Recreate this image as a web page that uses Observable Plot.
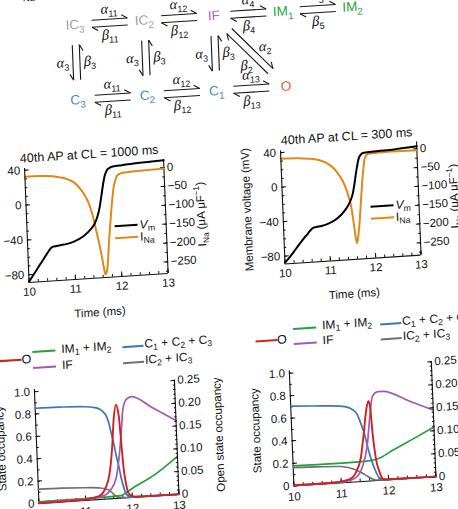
<!DOCTYPE html>
<html>
<head>
<meta charset="utf-8">
<script src="https://cdn.jsdelivr.net/npm/d3@7"></script>
<script src="https://cdn.jsdelivr.net/npm/@observablehq/plot@0.6"></script>
<style>
  html, body { margin: 0; padding: 0; background: #fff; width: 458px; height: 509px; overflow: hidden; }
  #fig {
    position: absolute; left: 0; top: 0; width: 458px; height: 509px;
    transform-origin: 229px 254px;
    transform: matrix(1, -0.065, 0.04, 1, 0, 0);
    font-family: "Liberation Sans", Arial, Helvetica, sans-serif; color: #111;
  }
  .sw { position: absolute; height: 0; border-top: 2px solid; }
  .lt { position: absolute; font-size: 12px; line-height: 14px; white-space: nowrap; transform: translateY(-50%); }
  .lt sub { font-size: 0.72em; vertical-align: -0.3em; line-height: 0; }
  .lt sup { font-size: 0.72em; vertical-align: 0.45em; line-height: 0; }
</style>
</head>
<body>
<div id="fig"></div>
<script>
// ---------- axis ticks ----------
const timeTicks = [10, 11, 12, 13];
const vmTicks = [40, 0, -40, -80];
const inaTicks = [0, -50, -100, -150, -200, -250];
const occTicks = [0, 0.2, 0.4, 0.6, 0.8, 1.0];
const openTicks = [0, 0.05, 0.10, 0.15, 0.20, 0.25];

// ---------- 40th AP, CL = 1000 ms : [time (ms), value] ----------
const vm1000 = [[10.0,-88],[10.1,-80.5],[10.2,-73],[10.3,-65.5],[10.4,-58],[10.5,-51],[10.56,-49.6],[10.7,-48.6],
  [10.85,-47.5],[11.0,-45.4],[11.12,-42.8],[11.23,-39.2],[11.35,-33.8],[11.46,-26.5],[11.53,-18],[11.585,-7.6],
  [11.63,5],[11.68,19],[11.72,28],[11.77,34],[11.83,36.5],[11.9,37.7],[12.1,38.6],[12.4,39.8],[12.7,40.5],[13.0,41.2]];
const ina1000 = [[10.0,-1],[10.3,-1.5],[10.6,-4],[10.76,-8.5],[10.9,-14],[11.05,-24],[11.15,-37],[11.26,-57],
  [11.34,-78],[11.40,-102],[11.45,-128],[11.49,-156],[11.54,-188],[11.58,-218],[11.62,-252],[11.65,-272],
  [11.675,-268],[11.70,-255],[11.725,-228],[11.75,-193],[11.79,-148],[11.83,-105],[11.87,-68],[11.90,-44],
  [11.95,-24],[11.98,-14],[12.05,-9],[12.1,-7],[12.4,-5],[12.7,-4],[13.0,-3]];

// ---------- 40th AP, CL = 300 ms ----------
const vm300 = [[10.0,-87.5],[10.1,-82],[10.2,-76],[10.29,-70],[10.4,-63],[10.53,-55.6],[10.6,-51.5],[10.65,-49.5],
  [10.8,-48.2],[10.95,-46.5],[11.07,-44],[11.2,-40],[11.3,-35.3],[11.39,-30],[11.46,-24.4],[11.51,-19],
  [11.55,-13.2],[11.6,-1],[11.65,13.2],[11.72,28.2],[11.81,33.4],[12.0,34.2],[12.5,35.2],[13.0,37]];
const ina300 = [[10.0,-3],[10.4,-5],[10.75,-10],[10.9,-16],[11.05,-26],[11.16,-38],[11.26,-55],[11.34,-72],
  [11.40,-91],[11.45,-112],[11.50,-138],[11.54,-178],[11.57,-215],[11.60,-240],[11.63,-226],[11.68,-182],
  [11.74,-112],[11.80,-50],[11.85,-15],[11.93,-5],[12.3,-3],[13.0,-4]];

// ---------- state occupancies, CL = 1000 ms ----------
const closed1000 = [[10,0.852],[10.5,0.848],[11.08,0.836],[11.25,0.825],[11.37,0.808],[11.45,0.78],[11.51,0.745],
  [11.56,0.68],[11.60,0.596],[11.65,0.49],[11.69,0.388],[11.74,0.28],[11.78,0.18],[11.83,0.09],[11.87,0.035],
  [11.95,0.01],[12.1,0.004],[13,0.002]];
const ic1000 = [[10,0.128],[10.5,0.124],[11.0,0.114],[11.3,0.104],[11.48,0.084],[11.57,0.055],[11.65,0.022],
  [11.75,0.006],[12,0.002],[13,0.001]];
const im1000 = [[10,0.015],[10.5,0.016],[11.0,0.017],[11.5,0.019],[11.75,0.022],[11.85,0.04],[12.0,0.078],
  [12.5,0.19],[13,0.34]];
const if1000 = [[10,0.008],[10.5,0.01],[11.0,0.014],[11.36,0.029],[11.55,0.083],[11.67,0.18],[11.76,0.386],
  [11.82,0.59],[11.875,0.795],[11.96,0.88],[12.07,0.90],[12.5,0.79],[13,0.66]];
const open1000 = [[10,0.0005],[11.0,0.002],[11.29,0.0075],[11.44,0.025],[11.53,0.053],[11.61,0.11],[11.67,0.175],
  [11.73,0.205],[11.78,0.18],[11.81,0.123],[11.84,0.065],[11.88,0.029],[11.94,0.007],[12.05,0.001],[13,0]];

// ---------- state occupancies, CL = 300 ms ----------
const closed300 = [[10,0.707],[10.5,0.695],[11.0,0.681],[11.22,0.661],[11.3,0.64],[11.39,0.598],[11.45,0.53],
  [11.52,0.435],[11.61,0.259],[11.71,0.112],[11.81,0.022],[11.95,0.005],[13,0.002]];
const ic300 = [[10,0.162],[10.5,0.155],[11.02,0.144],[11.31,0.108],[11.45,0.075],[11.56,0.043],[11.73,0.005],
  [12,0.001],[13,0.001]];
const im300 = [[10,0.177],[10.5,0.175],[11.03,0.173],[11.6,0.178],[11.82,0.196],[12.12,0.26],[12.63,0.363],[13,0.44]];
const if300 = [[10,0.004],[10.5,0.005],[11.08,0.008],[11.3,0.035],[11.45,0.119],[11.58,0.318],[11.66,0.577],
  [11.73,0.749],[11.85,0.785],[11.95,0.785],[12.5,0.685],[13,0.59]];
const open300 = [[10,0.0015],[10.79,0.001],[11.16,0.006],[11.31,0.019],[11.43,0.05],[11.52,0.107],[11.59,0.156],
  [11.64,0.173],[11.67,0.163],[11.70,0.105],[11.75,0.048],[11.81,0.02],[11.91,0.001],[13,0]];

// ---------- Markov model of I_Na ----------
const states = ["IC3", "IC2", "IF", "IM1", "IM2", "C3", "C2", "C1", "O"];
const stateColumn = [0, 1, 2, 3, 4, 0, 1, 2, 3];
const stateRow = [0, 0, 0, 0, 0, 1, 1, 1, 1];
const stateGroup = ["IC", "IC", "IF", "IM", "IM", "C", "C", "C", "O"];
const rateFrom = ["IC3", "IC2", "IF", "IM1", "C3", "C2", "C1", "IC3", "IC2", "IF", "IF"];
const rateTo   = ["IC2", "IF", "IM1", "IM2", "C2", "C1", "O", "C3", "C2", "C1", "O"];
const rateFwd  = ["α_{11}", "α_{12}", "α_{4}", "α_{5}", "α_{11}", "α_{12}", "α_{13}", "α_{3}", "α_{3}", "α_{3}", "α_{2}"];
const rateBwd  = ["β_{11}", "β_{12}", "β_{4}", "β_{5}", "β_{11}", "β_{12}", "β_{13}", "β_{3}", "β_{3}", "β_{3}", "β_{2}"];

// ---------- styling ----------
const FONT = '"Liberation Sans", Arial, Helvetica, sans-serif';
const ORANGE = "#e08a16";
const COLORS = {O: "#d42020", IM: "#22a03a", C: "#3a76b8", IF: "#a159b8", IC: "#707070"};
const STATE_COLORS = {O: "#e4552b", IM: "#25a541", C: "#3d82c4", IF: "#b35fc6", IC: "#9c9c9c"};
const M = {left: 60, right: 62, top: 26, bottom: 44};
const svgNS = "http://www.w3.org/2000/svg";
const fig = document.getElementById("fig");

const timeMinor = d3.range(10, 13.001, 0.2);
const vmMinor = d3.range(-80, 41, 10);
const inaMinor = d3.range(-275, 1, 25);
const occMinor = d3.range(0, 1.001, 0.1);
const openMinor = d3.range(0, 0.2501, 0.01);
const fmtTime = d => String(d);
const fmtOcc = d => d === 0 ? "0" : d.toFixed(1);
const fmtOpen = d => d === 0 ? "0" : d.toFixed(2);
const noText = () => "";

// Turn "_{..}", "^{..}", "*..*" and Greek letters into styled tspans.
function richify(root) {
  root.querySelectorAll("text, tspan").forEach(el => {
    if (el.children.length) return;
    const s = el.textContent;
    if (!/[_^*αβ]/.test(s)) return;
    const fs = parseFloat(getComputedStyle(el).fontSize) || 12;
    el.textContent = "";
    const re = /([_^])\{([^}]*)\}|\*([^*]+)\*|([αβ])|([^_^*αβ]+)/g;
    let m, shift = 0;
    while ((m = re.exec(s))) {
      const t = document.createElementNS(svgNS, "tspan");
      let target = 0;
      if (m[1]) {
        t.textContent = m[2];
        t.setAttribute("font-size", (fs * 0.72).toFixed(2));
        target = m[1] === "_" ? fs * 0.28 : -fs * 0.42;
      } else if (m[3]) {
        t.textContent = m[3];
        t.setAttribute("font-style", "italic");
      } else if (m[4]) {
        t.textContent = m[4];
        t.setAttribute("font-family", '"Liberation Serif", "DejaVu Serif", serif');
        t.setAttribute("font-style", "italic");
        t.setAttribute("font-size", (fs * 1.15).toFixed(2));
      } else {
        t.textContent = m[5];
      }
      if (target !== shift) { t.setAttribute("dy", (target - shift).toFixed(2)); shift = target; }
      el.appendChild(t);
    }
  });
}

function place(node, left, top) {
  node.style.position = "absolute";
  node.style.left = left + "px";
  node.style.top = top + "px";
  fig.appendChild(node);
  richify(node);
  return node;
}

function baseOptions(frame) {
  return {
    width: M.left + frame.w + M.right,
    height: M.top + frame.h + M.bottom,
    marginLeft: M.left, marginRight: M.right, marginTop: M.top, marginBottom: M.bottom,
    style: {fontFamily: FONT, fontSize: "11.5px", background: "transparent", overflow: "visible", color: "#111"}
  };
}

function swatch(x1, x2, y, color) {
  const d = document.createElement("div");
  d.className = "sw";
  d.style.left = x1 + "px"; d.style.top = (y - 1) + "px";
  d.style.width = (x2 - x1) + "px"; d.style.borderTopColor = color;
  fig.appendChild(d);
}
function legendText(x, y, html, size) {
  const d = document.createElement("div");
  d.className = "lt";
  d.style.left = x + "px"; d.style.top = y + "px";
  if (size) d.style.fontSize = size + "px";
  d.innerHTML = html;
  fig.appendChild(d);
}

const X = d => d[0], Y = d => d[1];

// Membrane voltage and sodium current during the 40th beat
function apPanel(o) {
  const base = baseOptions(o.frame);
  const ina = Plot.plot({
    ...base,
    x: {domain: [10, 13], axis: null},
    y: {domain: o.inaDomain},
    marks: [
      Plot.ruleX([13], {stroke: "#111", strokeWidth: 1.1}),
      Plot.axisY(inaMinor, {anchor: "right", tickSize: -2.5, tickFormat: noText, label: null}),
      Plot.axisY({anchor: "right", ticks: inaTicks, tickSize: -4.5, tickPadding: 7.5,
        label: "I_{Na} (μA μF^{−1})", labelAnchor: "center", labelOffset: 39, labelArrow: "none"}),
      Plot.line(o.ina, {x: X, y: Y, stroke: ORANGE, strokeWidth: 2, curve: "monotone-x"})
    ]
  });
  place(ina, o.frame.x - M.left, o.frame.y - M.top);
  const vm = Plot.plot({
    ...base,
    x: {domain: [10, 13]},
    y: {domain: [-89, 42]},
    marks: [
      Plot.ruleX([10], {stroke: "#111", strokeWidth: 1.1}),
      Plot.ruleY([-89], {stroke: "#111", strokeWidth: 1.1}),
      Plot.axisX(timeMinor, {tickSize: -2.5, tickFormat: noText, label: null}),
      Plot.axisX({ticks: timeTicks, tickSize: -4.5, tickPadding: 9.5, tickFormat: fmtTime, label: "Time (ms)",
        labelAnchor: "center", labelOffset: 38, labelArrow: "none"}),
      Plot.axisY(vmMinor, {tickSize: -2.5, tickFormat: noText, label: null}),
      Plot.axisY({ticks: vmTicks, tickSize: -4.5, tickPadding: 9, label: "Membrane voltage (mV)",
        labelAnchor: "center", labelOffset: 40, labelArrow: "none"}),
      Plot.line(o.vm, {x: X, y: Y, stroke: "#000", strokeWidth: 2, curve: "monotone-x"}),
      Plot.text([o.title], {text: d => d, frameAnchor: "top", dy: -15, dx: o.titleDx, fontSize: 12.5})
    ]
  });
  place(vm, o.frame.x - M.left, o.frame.y - M.top);
  const L = o.legend;
  swatch(L.x, L.x + 23, L.y, "#000");
  swatch(L.x, L.x + 23, L.y + 11.5, ORANGE);
  legendText(L.x + 25, L.y, "<i>V</i><sub>m</sub>");
  legendText(L.x + 25, L.y + 11.5, "I<sub>Na</sub>");
}

// Occupancy of the channel states during the 40th beat
function occPanel(o) {
  const base = baseOptions(o.frame);
  const occ = Plot.plot({
    ...base,
    x: {domain: [10, 13]},
    y: {domain: [0, 1.02]},
    marks: [
      Plot.ruleX([10], {stroke: "#111", strokeWidth: 1.1}),
      Plot.ruleY([0], {stroke: "#111", strokeWidth: 1.1}),
      Plot.axisX(timeMinor, {tickSize: -2.5, tickFormat: noText, label: null}),
      Plot.axisX({ticks: timeTicks, tickSize: -4.5, tickPadding: 11, tickFormat: fmtTime, label: "Time (ms)",
        labelAnchor: "center", labelOffset: 40, labelArrow: "none"}),
      Plot.axisY(occMinor, {tickSize: -2.5, tickFormat: noText, label: null}),
      Plot.axisY({ticks: occTicks, tickSize: -4.5, tickPadding: 9, tickFormat: fmtOcc, label: "State occupancy",
        labelAnchor: "center", labelOffset: 40, labelArrow: "none"}),
      Plot.line(o.ic, {x: X, y: Y, stroke: COLORS.IC, strokeWidth: 1.6, curve: "monotone-x"}),
      Plot.line(o.im, {x: X, y: Y, stroke: COLORS.IM, strokeWidth: 1.7, curve: "monotone-x"}),
      Plot.line(o.closed, {x: X, y: Y, stroke: COLORS.C, strokeWidth: 1.7, curve: "monotone-x"}),
      Plot.line(o.inact, {x: X, y: Y, stroke: COLORS.IF, strokeWidth: 1.7, curve: "monotone-x"})
    ]
  });
  place(occ, o.frame.x - M.left, o.frame.y - M.top);
  const open = Plot.plot({
    ...base,
    x: {domain: [10, 13], axis: null},
    y: {domain: [0, 0.25]},
    marks: [
      Plot.ruleX([13], {stroke: "#111", strokeWidth: 1.1}),
      Plot.axisY(openMinor, {anchor: "right", tickSize: -2.2, tickFormat: noText, label: null}),
      Plot.axisY({anchor: "right", ticks: openTicks, tickSize: -4.5, tickPadding: 7.5, tickFormat: fmtOpen,
        label: "Open state occupancy", labelAnchor: "center", labelOffset: 46, labelArrow: "none"}),
      Plot.line(o.open, {x: X, y: Y, stroke: COLORS.O, strokeWidth: 1.9, curve: "monotone-x"})
    ]
  });
  place(open, o.frame.x - M.left, o.frame.y - M.top);
  const L = o.legend;
  swatch(L.red[0], L.red[0] + 22, L.red[1], COLORS.O);
  legendText(L.red[0] + 22, L.red[1], "O", 12.5);
  swatch(L.col1[0], L.col1[0] + 23, L.col1[1], COLORS.IM);
  legendText(L.col1[0] + 29, L.col1[1] - 1.5, "IM<sub>1</sub> + IM<sub>2</sub>");
  swatch(L.col1[0], L.col1[0] + 23, L.col1[1] + L.gap, COLORS.IF);
  legendText(L.col1[0] + 29, L.col1[1] + L.gap - 1.5, "IF");
  swatch(L.col2[0], L.col2[0] + 21, L.col2[1], COLORS.C);
  legendText(L.col2[0] + 22, L.col2[1] - 2, "C<sub>1</sub> + C<sub>2</sub> + C<sub>3</sub>");
  swatch(L.col2[0], L.col2[0] + 21, L.col2[1] + L.gap, COLORS.IC);
  legendText(L.col2[0] + 22, L.col2[1] + L.gap - 2, "IC<sub>2</sub> + IC<sub>3</sub>");
}

// ---------- state diagram ----------
function diagram() {
  const colPos = Plot.scale({x: {domain: [0, 4], range: [84, 361.5]}});
  const rowPos = Plot.scale({y: {domain: [0, 1], range: [45, 120]}});
  const pos = name => {
    const i = states.indexOf(name);
    return [colPos.apply(stateColumn[i]), rowPos.apply(stateRow[i])];
  };
  const shafts = [], barbs = [], labels = [];
  rateFrom.forEach((from, k) => {
    const A = pos(from), B = pos(rateTo[k]);
    const dx = B[0] - A[0], dy = B[1] - A[1], len = Math.hypot(dx, dy);
    const u = [dx / len, dy / len];
    const vertical = Math.abs(u[0]) < 0.2, horizontal = Math.abs(u[1]) < 0.2;
    const side = vertical ? -1 : 1;
    const n = [u[1] * side, -u[0] * side];
    const inset = vertical ? 20 : horizontal ? 16.8 : 22;
    const half = len / 2 - inset, off = 3.5, bl = 6, bw = 3.5;
    const mid = [(A[0] + B[0]) / 2, (A[1] + B[1]) / 2];
    const at = (a, b) => [mid[0] + u[0] * a + n[0] * b, mid[1] + u[1] * a + n[1] * b];
    // forward harpoon (barb on the outer side)
    let s = at(-half, off), e = at(half, off), b = at(half - bl, off + bw);
    shafts.push({x1: s[0], y1: s[1], x2: e[0], y2: e[1]});
    barbs.push({x1: e[0], y1: e[1], x2: b[0], y2: b[1]});
    // backward harpoon
    s = at(half, -off); e = at(-half, -off); b = at(-half + bl, -off - bw);
    shafts.push({x1: s[0], y1: s[1], x2: e[0], y2: e[1]});
    barbs.push({x1: e[0], y1: e[1], x2: b[0], y2: b[1]});
    const along = horizontal || vertical ? 0 : 8;
    const lf = at(along, 13.5), lb = at(along, vertical ? -13.5 : -12.5);
    labels.push({x: lf[0], y: lf[1], text: rateFwd[k]});
    labels.push({x: lb[0], y: lb[1], text: rateBwd[k]});
  });
  const svg = Plot.plot({
    width: 458, height: 150, margin: 0,
    x: {type: "identity", axis: null}, y: {type: "identity", axis: null},
    style: {fontFamily: FONT, background: "transparent", overflow: "visible", color: "#111"},
    marks: [
      Plot.link(shafts, {x1: "x1", y1: "y1", x2: "x2", y2: "y2", stroke: "#1a1a1a", strokeWidth: 1.1}),
      Plot.link(barbs, {x1: "x1", y1: "y1", x2: "x2", y2: "y2", stroke: "#1a1a1a", strokeWidth: 1.1}),
      Plot.text(labels, {x: "x", y: "y", text: "text", fontSize: 12.5, fill: "#111"}),
      Plot.text(states, {
        x: d => pos(d)[0], y: d => pos(d)[1],
        text: d => d.replace(/(\d)$/, "_{$1}"),
        fill: d => STATE_COLORS[stateGroup[states.indexOf(d)]],
        fontSize: 13.5
      })
    ]
  });
  place(svg, 0, -30);
  legendText(30, -18, "I<sub>Na</sub> model", 13);
}

diagram();
apPanel({frame: {x: 27.5, y: 155, w: 139, h: 114}, vm: vm1000, ina: ina1000, inaDomain: [-281, 21],
  title: "40th AP at CL = 1000 ms", titleDx: -4.5, legend: {x: 116, y: 219}});
apPanel({frame: {x: 283.5, y: 154, w: 136, h: 113}, vm: vm300, ina: ina300, inaDomain: [-283, 18],
  title: "40th AP at CL = 300 ms", titleDx: -1.5, legend: {x: 372, y: 216}});
occPanel({frame: {x: 29, y: 376, w: 140, h: 114}, closed: closed1000, ic: ic1000, im: im1000, inact: if1000,
  open: open1000, legend: {red: [-4, 346], col1: [29, 339], col2: [119, 339.5], gap: 16}});
occPanel({frame: {x: 284, y: 374, w: 142, h: 115}, closed: closed300, ic: ic300, im: im300, inact: if300,
  open: open300, legend: {red: [251.5, 343], col1: [290, 332.5], col2: [377, 334], gap: 15}});
</script>
</body>
</html>
